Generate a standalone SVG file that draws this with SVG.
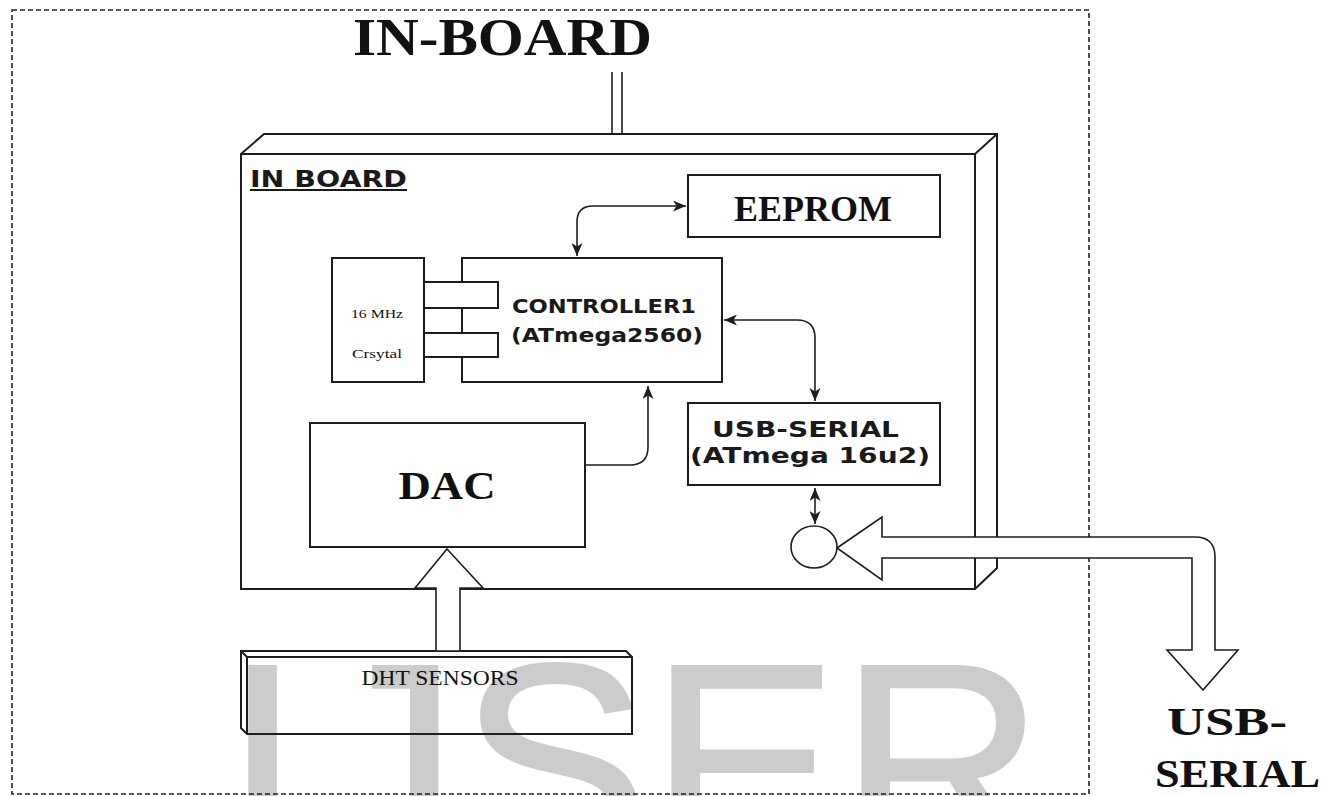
<svg xmlns="http://www.w3.org/2000/svg" width="1332" height="796" viewBox="0 0 1332 796">
<style>
.ln{fill:none;stroke:#1e1e1e;stroke-width:2}
.box{fill:#fff;stroke:#1e1e1e;stroke-width:2}
.hollow{fill:#fff;stroke:#1e1e1e;stroke-width:1.6;stroke-linejoin:miter}
.con{fill:none;stroke:#1e1e1e;stroke-width:1.6}
.serifb{font-family:"Liberation Serif","Times New Roman",serif;font-weight:bold;fill:#111}
.serif{font-family:"Liberation Serif","Times New Roman",serif;fill:#111}
.sansb{font-family:"DejaVu Sans",Verdana,sans-serif;font-weight:bold;fill:#1a1a1a}
</style>
<defs>
<marker id="arr" viewBox="0 0 13 11" refX="13" refY="5.5" markerWidth="13" markerHeight="11" markerUnits="userSpaceOnUse" orient="auto-start-reverse">
<path d="M0,0 L13,5.5 L0,11 L3.5,5.5 Z" fill="#1e1e1e"/>
</marker>
</defs>
<rect width="1332" height="796" fill="#fff"/>
<text x="223 316 459 649 839" y="862" font-family="Liberation Sans, Arial, sans-serif" font-size="285" fill="#cccccc" stroke="#cccccc" stroke-width="2">IJSER</text>
<rect x="12" y="10" width="1077" height="784" fill="none" stroke="#222" stroke-width="1.6" stroke-dasharray="5,3"/>
<g id="title">
<text class="serifb" x="353" y="55" font-size="52" textLength="299" lengthAdjust="spacingAndGlyphs">IN-BOARD</text>
<line class="con" x1="612" y1="72" x2="612" y2="134"/>
<line class="con" x1="622" y1="72" x2="622" y2="134"/>
</g>
<g id="board">
<path class="ln" d="M241,154 L264,134 L997,134 L997,568 L975,589 L241,589 Z M241,154 H975 V589 M975,154 L997,134" fill="#fff"/>
<text class="sansb" x="250" y="187" font-size="23" textLength="157" lengthAdjust="spacingAndGlyphs">IN BOARD</text>
<line x1="250" y1="190" x2="407" y2="190" stroke="#1a1a1a" stroke-width="2"/>
</g>
<g id="eeprom">
<rect class="box" x="688" y="175" width="252" height="62"/>
<text class="serifb" x="813" y="221" font-size="36" text-anchor="middle">EEPROM</text>
</g>
<g id="controller">
<rect class="box" x="462" y="258" width="260" height="124"/>
<rect class="box" x="424" y="282" width="74" height="26"/>
<rect class="box" x="424" y="333" width="74" height="24"/>
<text class="sansb" x="512" y="313" font-size="19" textLength="184" lengthAdjust="spacingAndGlyphs">CONTROLLER1</text>
<text class="sansb" x="511" y="342" font-size="19" textLength="192" lengthAdjust="spacingAndGlyphs">(ATmega2560)</text>
</g>
<g id="crystal">
<rect class="box" x="332" y="258" width="92" height="124"/>
<text class="serif" x="351" y="318" font-size="13" textLength="52" lengthAdjust="spacingAndGlyphs">16 MHz</text>
<text class="serif" x="352" y="358" font-size="13" textLength="50" lengthAdjust="spacingAndGlyphs">Crsytal</text>
</g>
<g id="usbserial">
<rect class="box" x="688" y="403" width="252" height="82"/>
<text class="sansb" x="712" y="437" font-size="22" textLength="187" lengthAdjust="spacingAndGlyphs">USB-SERIAL</text>
<text class="sansb" x="690" y="463" font-size="22" textLength="240" lengthAdjust="spacingAndGlyphs">(ATmega 16u2)</text>
</g>
<g id="dac">
<rect class="box" x="310" y="423" width="275" height="124"/>
<text class="serifb" x="447" y="499" font-size="40" text-anchor="middle" textLength="97" lengthAdjust="spacingAndGlyphs">DAC</text>
</g>
<g id="port">
<ellipse cx="814" cy="547" rx="23" ry="21" fill="#fff" stroke="#1e1e1e" stroke-width="1.6"/>
</g>
<g id="dht">
<path class="ln" d="M241,651 H626 L632,657 V734 H247 L241,728 Z M241,651 L247,657 H632 M247,657 V734"/>
<text class="serif" x="440" y="685" font-size="22" text-anchor="middle" textLength="157" lengthAdjust="spacingAndGlyphs">DHT SENSORS</text>
</g>
<g id="usblabel">
<text class="serifb" x="1167" y="735" font-size="40" textLength="120" lengthAdjust="spacingAndGlyphs">USB-</text>
<text class="serifb" x="1155" y="787" font-size="40" textLength="165" lengthAdjust="spacingAndGlyphs">SERIAL</text>
</g>
<g id="connectors">
<path class="con" d="M577,256 V222 Q577,206 593,206 H686" marker-start="url(#arr)" marker-end="url(#arr)"/>
<path class="con" d="M724,320 H797 Q815,320 815,338 V401" marker-start="url(#arr)" marker-end="url(#arr)"/>
<path class="con" d="M585,465 H630 Q648,465 648,447 V386" marker-end="url(#arr)"/>
<path class="con" d="M815,488 V524" marker-start="url(#arr)" marker-end="url(#arr)"/>
<path class="hollow" d="M447,549 L483,588 L460,588 L460,651 L436,651 L436,588 L415,588 Z"/>
<path class="hollow" d="M837,548 L882,517 L882,537 L1195,537 Q1215,537 1215,557 L1215,650 L1238,650 L1203,690 L1167,650 L1192,650 L1192,558 L882,558 L882,580 Z"/>
</g>
</svg>
